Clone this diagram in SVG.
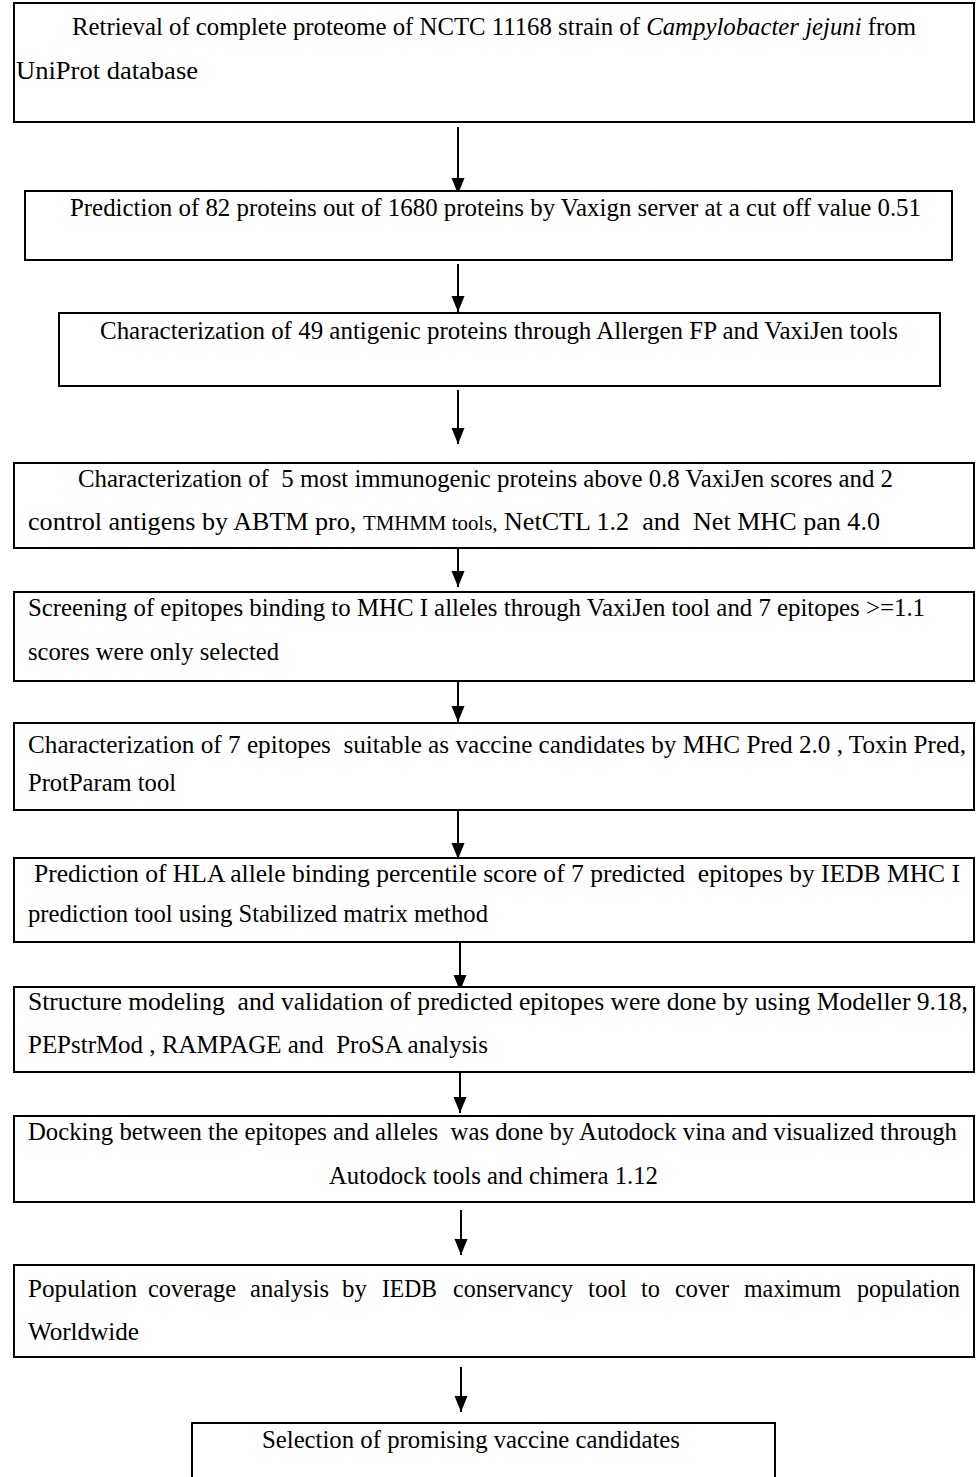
<svg xmlns="http://www.w3.org/2000/svg" width="976" height="1477" viewBox="0 0 976 1477">
<style>
.box{fill:#fff;stroke:#000;stroke-width:2}
.t{fill:#000;white-space:pre}
.arr{stroke:#000;stroke-width:2;fill:none;marker-end:url(#ah)}
</style>
<defs>
<marker id="ah" markerUnits="userSpaceOnUse" markerWidth="18" markerHeight="14" refX="16" refY="6.5" orient="auto" viewBox="0 0 18 14">
<path d="M0,0 L16,6.5 L0,13 Z" fill="#000"/>
</marker>
</defs>
<rect width="976" height="1477" fill="#fff"/>
<g id="connectors">
<line class="arr" x1="458" y1="127" x2="458" y2="194"/>
<line class="arr" x1="458" y1="264" x2="458" y2="312"/>
<line class="arr" x1="458" y1="390" x2="458" y2="444"/>
<line class="arr" x1="458" y1="549" x2="458" y2="587"/>
<line class="arr" x1="458" y1="682" x2="458" y2="722"/>
<line class="arr" x1="458" y1="811" x2="458" y2="859"/>
<line class="arr" x1="460" y1="942" x2="460" y2="991"/>
<line class="arr" x1="460" y1="1072" x2="460" y2="1113"/>
<line class="arr" x1="461" y1="1210" x2="461" y2="1255"/>
<line class="arr" x1="461" y1="1367" x2="461" y2="1412"/>
</g>
<g font-family="Liberation Serif, Times New Roman, serif" font-size="25">
<g id="n1">
<rect class="box" x="14" y="3" width="960" height="119"/>
<text class="t" x="72" y="35" textLength="844" lengthAdjust="spacingAndGlyphs">Retrieval of complete proteome of NCTC 11168 strain of <tspan font-style="italic">Campylobacter jejuni</tspan> from</text>
<text class="t" x="16" y="79" textLength="182" lengthAdjust="spacingAndGlyphs">UniProt database</text>
</g>
<g id="n2">
<rect class="box" x="25" y="191" width="927" height="69"/>
<text class="t" x="70" y="216" textLength="851" lengthAdjust="spacingAndGlyphs">Prediction of 82 proteins out of 1680 proteins by Vaxign server at a cut off value 0.51</text>
</g>
<g id="n3">
<rect class="box" x="59" y="313" width="881" height="73"/>
<text class="t" x="100" y="339" textLength="798" lengthAdjust="spacingAndGlyphs">Characterization of 49 antigenic proteins through Allergen FP and VaxiJen tools</text>
</g>
<g id="n4">
<rect class="box" x="14" y="463" width="960" height="85"/>
<text class="t" x="78" y="487" textLength="815" lengthAdjust="spacingAndGlyphs">Characterization of  5 most immunogenic proteins above 0.8 VaxiJen scores and 2</text>
<text class="t" x="28" y="530" textLength="852" lengthAdjust="spacingAndGlyphs">control antigens by ABTM pro, <tspan font-size="20">TMHMM tools,</tspan> NetCTL 1.2  and  Net MHC pan 4.0</text>
</g>
<g id="n5">
<rect class="box" x="14" y="592" width="960" height="89"/>
<text class="t" x="28" y="616" textLength="897" lengthAdjust="spacingAndGlyphs">Screening of epitopes binding to MHC I alleles through VaxiJen tool and 7 epitopes &gt;=1.1</text>
<text class="t" x="28" y="660" textLength="251" lengthAdjust="spacingAndGlyphs">scores were only selected</text>
</g>
<g id="n6">
<rect class="box" x="14" y="723" width="960" height="87"/>
<text class="t" x="28" y="753" textLength="938" lengthAdjust="spacingAndGlyphs">Characterization of 7 epitopes  suitable as vaccine candidates by MHC Pred 2.0 , Toxin Pred,</text>
<text class="t" x="28" y="791" textLength="148" lengthAdjust="spacingAndGlyphs">ProtParam tool</text>
</g>
<g id="n7">
<rect class="box" x="14" y="858" width="960" height="84"/>
<text class="t" x="34" y="882" textLength="926" lengthAdjust="spacingAndGlyphs">Prediction of HLA allele binding percentile score of 7 predicted  epitopes by IEDB MHC I</text>
<text class="t" x="28" y="922" textLength="460" lengthAdjust="spacingAndGlyphs">prediction tool using Stabilized matrix method</text>
</g>
<g id="n8">
<rect class="box" x="14" y="987" width="960" height="85"/>
<text class="t" x="28" y="1010" textLength="940" lengthAdjust="spacingAndGlyphs">Structure modeling  and validation of predicted epitopes were done by using Modeller 9.18,</text>
<text class="t" x="28" y="1053" textLength="460" lengthAdjust="spacingAndGlyphs">PEPstrMod , RAMPAGE and  ProSA analysis</text>
</g>
<g id="n9">
<rect class="box" x="14" y="1116" width="960" height="86"/>
<text class="t" x="28" y="1140" textLength="929" lengthAdjust="spacingAndGlyphs">Docking between the epitopes and alleles  was done by Autodock vina and visualized through</text>
<text class="t" x="329" y="1184" textLength="329" lengthAdjust="spacingAndGlyphs">Autodock tools and chimera 1.12</text>
</g>
<g id="n10">
<rect class="box" x="14" y="1265" width="960" height="92"/>
<text class="t" y="1297"><tspan x="28" textLength="109" lengthAdjust="spacingAndGlyphs">Population</tspan><tspan x="148" textLength="88" lengthAdjust="spacingAndGlyphs">coverage</tspan><tspan x="250" textLength="79" lengthAdjust="spacingAndGlyphs">analysis</tspan><tspan x="342" textLength="25" lengthAdjust="spacingAndGlyphs">by</tspan><tspan x="382" textLength="55" lengthAdjust="spacingAndGlyphs">IEDB</tspan><tspan x="453" textLength="120" lengthAdjust="spacingAndGlyphs">conservancy</tspan><tspan x="588" textLength="39" lengthAdjust="spacingAndGlyphs">tool</tspan><tspan x="641" textLength="19" lengthAdjust="spacingAndGlyphs">to</tspan><tspan x="675" textLength="54" lengthAdjust="spacingAndGlyphs">cover</tspan><tspan x="744" textLength="97" lengthAdjust="spacingAndGlyphs">maximum</tspan><tspan x="857" textLength="103" lengthAdjust="spacingAndGlyphs">population</tspan></text>
<text class="t" x="28" y="1340" textLength="111" lengthAdjust="spacingAndGlyphs">Worldwide</text>
</g>
<g id="n11">
<rect class="box" x="192" y="1423" width="583" height="70"/>
<text class="t" x="262" y="1448" textLength="418" lengthAdjust="spacingAndGlyphs">Selection of promising vaccine candidates</text>
</g>
</g>
</svg>
